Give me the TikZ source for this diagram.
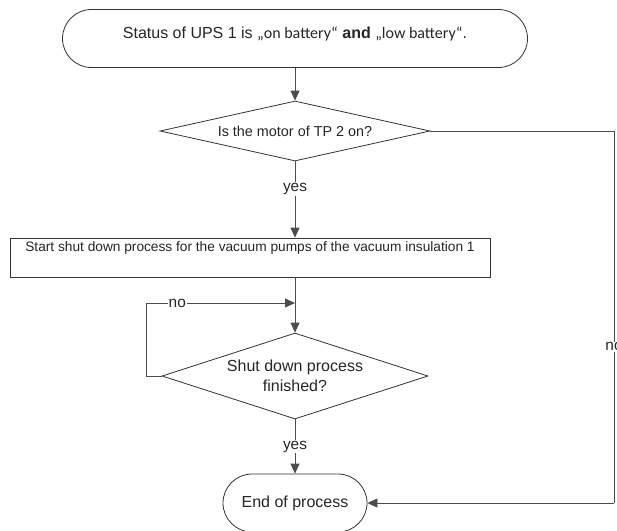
\documentclass[tikz,border=0pt]{standalone}
\usepackage{fontspec}
\setmainfont{Liberation Sans}
\newfontfamily\quotefont{Carlito}
\usetikzlibrary{shapes.geometric,arrows.meta}
\begin{document}
\begin{tikzpicture}[x=1pt,y=-1pt,
  every node/.style={font=\fontsize{16}{20}\selectfont, text=black!85},
  shapeline/.style={draw=black!80, line width=0.8pt},
  terminal/.style={shapeline, rectangle, rounded corners=29pt, minimum height=58pt, inner sep=0pt},
  decision/.style={shapeline, diamond, inner sep=0pt, align=center},
  process/.style={shapeline, rectangle, minimum width=480pt, minimum height=39pt, inner sep=0pt},
  flow/.style={draw=black!70, line width=0.8pt},
  arrow/.style={flow, -{Triangle[length=10pt,width=9pt]}},
  edgelabel/.style={fill=white, inner sep=1pt, font=\fontsize{15.4}{18}\selectfont},
]
\useasboundingbox (0,0) rectangle (617,530);

% shapes of the flow
\node[terminal, minimum width=465pt] (start) at (295,38.5)
  {\raisebox{5pt}[\height][\depth]{Status of UPS 1 is {\quotefont „on battery“} \textbf{and} {\quotefont „low battery“}.}};
\node[decision, minimum width=270pt, minimum height=60pt, shape aspect=4.5,
      font=\fontsize{14.4}{18}\selectfont] (q1) at (295,131)
  {Is the motor of TP 2 on?};
\node[process, font=\fontsize{13.7}{16}\selectfont] (stop) at (250,257.5)
  {\raisebox{10pt}[\height][\depth]{Start shut down process for the vacuum pumps of the vacuum insulation 1}};
\node[decision, minimum width=266pt, minimum height=86pt, shape aspect=3.1] (q2) at (295,376)
  {Shut down process\\finished?};
\node[terminal, minimum width=144pt] (end) at (295,503) {End of process};

% helper points for the routed connectors
\coordinate (rightrail) at (614,0);
\coordinate (leftrail) at (146,0);
\coordinate (merge) at (295,303);

% connectors
\draw[arrow] (start.south) -- (q1.north);
\draw[arrow] (q1.south) -- node[edgelabel, pos=0.36]{yes} (q1.south |- stop.north);
\draw[flow] (q1.east) -| node[edgelabel, pos=0.79]{no} (end.east -| rightrail);
\draw[arrow] (end.east -| rightrail) -- (end.east);
\draw[arrow] (stop.south -| q2.north) -- (q2.north);
\draw[arrow] (q2.west) -- (q2.west -| leftrail) |- node[edgelabel, pos=0.605]{no} (merge);
\draw[arrow] (q2.south) -- node[edgelabel]{yes} (end.north);
\end{tikzpicture}
\end{document}
